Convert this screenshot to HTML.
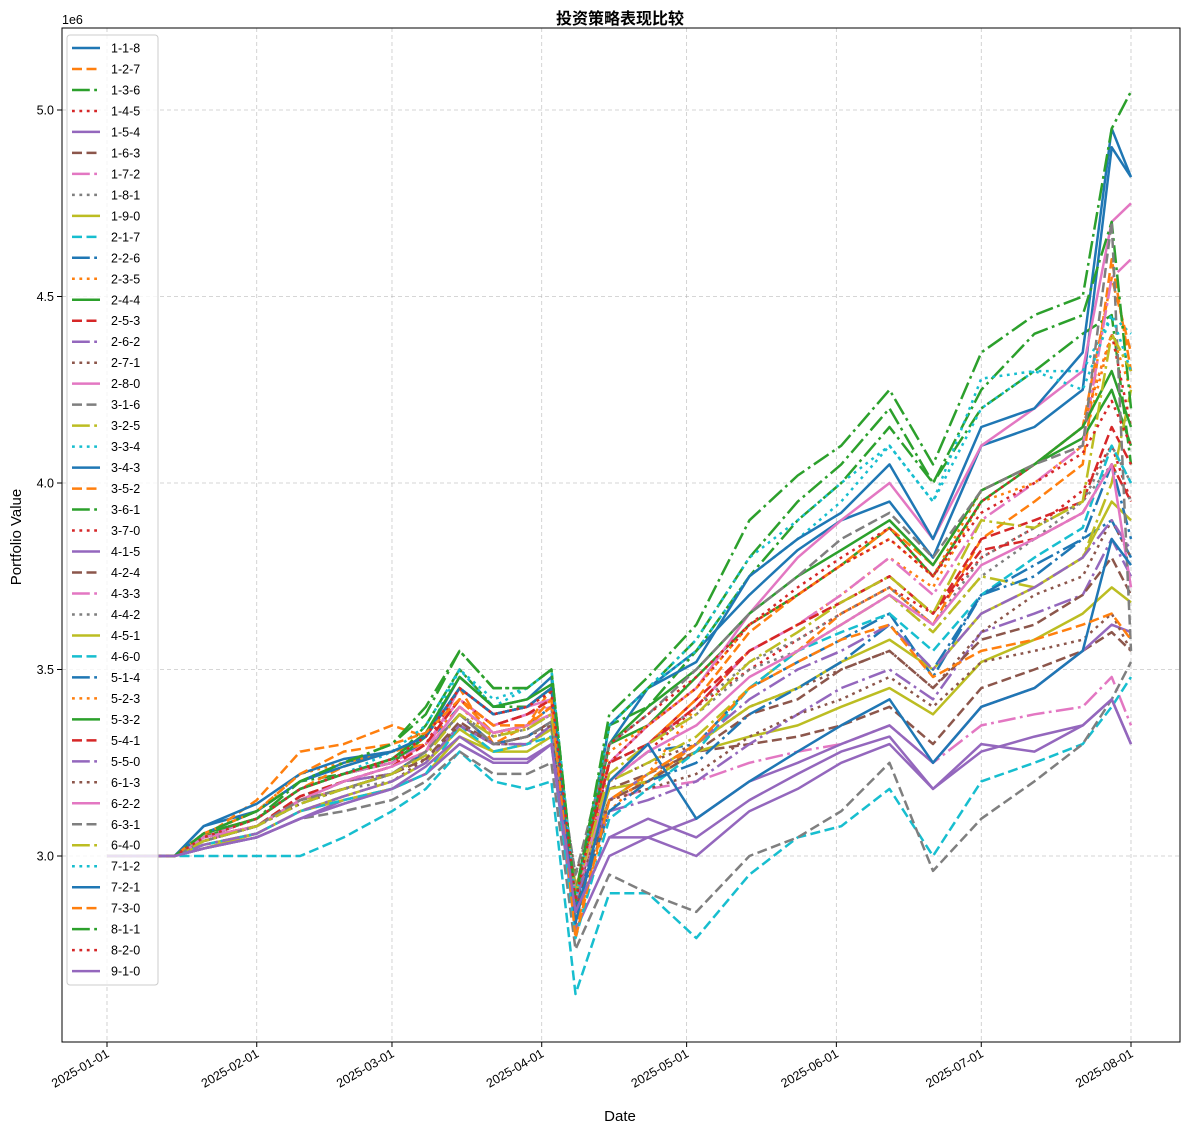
<!DOCTYPE html>
<html><head><meta charset="utf-8"><style>
html,body{margin:0;padding:0;background:#fff;}
svg{display:block;font-family:"Liberation Sans","Noto Sans CJK SC",sans-serif;}
</style></head><body>
<svg id="chart" width="1189" height="1133" viewBox="0 0 1189 1133" xmlns="http://www.w3.org/2000/svg">
<rect x="0" y="0" width="1189" height="1133" fill="#fff"/>
<text x="620" y="24" text-anchor="middle" font-size="16" font-weight="bold" fill="#000">投资策略表现比较</text>
<text x="62" y="24" font-size="12.5" fill="#000">1e6</text>
<text x="620" y="1121" text-anchor="middle" font-size="15" fill="#000">Date</text>
<text x="21" y="537" text-anchor="middle" font-size="15" fill="#000" transform="rotate(-90 21 537)">Portfolio Value</text>
<g id="grid"></g><g id="series"></g>
<rect x="62" y="28" width="1118" height="1014" fill="none" stroke="#000" stroke-width="1"/>
<g id="axes"></g><g id="legend"></g>
</svg>
<script>
const dayOffsets=[0,14,20,31,40,49,59,66,73,80,87,92,97,104,112,122,133,143,152,162,171,181,192,202,208,212];
const xTickLabels=["2025-01-01","2025-02-01","2025-03-01","2025-04-01","2025-05-01","2025-06-01","2025-07-01","2025-08-01"];
const xTickDays=[0,31,59,90,120,151,181,212];
const yTickValues=[3.0,3.5,4.0,4.5,5.0];
const seriesNames=["1-1-8","1-2-7","1-3-6","1-4-5","1-5-4","1-6-3","1-7-2","1-8-1","1-9-0","2-1-7","2-2-6","2-3-5","2-4-4","2-5-3","2-6-2","2-7-1","2-8-0","3-1-6","3-2-5","3-3-4","3-4-3","3-5-2","3-6-1","3-7-0","4-1-5","4-2-4","4-3-3","4-4-2","4-5-1","4-6-0","5-1-4","5-2-3","5-3-2","5-4-1","5-5-0","6-1-3","6-2-2","6-3-1","6-4-0","7-1-2","7-2-1","7-3-0","8-1-1","8-2-0","9-1-0"];
const s01=[3.00,3.00,3.08,3.12,3.20,3.25,3.28,3.32,3.45,3.38,3.40,3.45,2.85,3.30,3.45,3.55,3.70,3.82,3.90,3.95,3.80,4.10,4.15,4.25,4.90,4.82];
const s02=[3.00,3.00,3.05,3.15,3.28,3.30,3.35,3.32,3.45,3.30,3.35,3.45,2.80,3.15,3.20,3.30,3.45,3.55,3.65,3.72,3.62,3.85,3.95,4.05,4.60,4.30];
const s03=[3.00,3.00,3.06,3.10,3.20,3.22,3.25,3.35,3.50,3.40,3.40,3.45,2.90,3.35,3.40,3.55,3.75,3.90,4.00,4.15,4.00,4.20,4.30,4.40,4.45,4.05];
const s04=[3.00,3.00,3.04,3.08,3.15,3.18,3.22,3.28,3.40,3.33,3.35,3.38,2.88,3.20,3.28,3.40,3.50,3.58,3.65,3.72,3.65,3.80,3.88,3.98,4.10,3.95];
const s05=[3.00,3.00,3.02,3.05,3.10,3.15,3.18,3.22,3.30,3.25,3.25,3.30,2.85,3.05,3.10,3.05,3.15,3.22,3.28,3.32,3.18,3.30,3.28,3.35,3.42,3.30];
const s06=[3.00,3.00,3.05,3.08,3.16,3.20,3.22,3.28,3.38,3.30,3.32,3.36,2.90,3.18,3.22,3.28,3.30,3.32,3.35,3.40,3.30,3.45,3.50,3.55,3.60,3.55];
const s07=[3.00,3.00,3.06,3.10,3.18,3.22,3.25,3.30,3.42,3.35,3.38,3.40,2.92,3.15,3.18,3.20,3.25,3.28,3.30,3.35,3.25,3.35,3.38,3.40,3.48,3.35];
const s08=[3.00,3.00,3.04,3.08,3.14,3.18,3.20,3.25,3.35,3.30,3.30,3.35,2.95,3.25,3.30,3.38,3.50,3.55,3.62,3.70,3.60,3.75,3.85,3.95,4.05,3.95];
const s09=[3.00,3.00,3.02,3.06,3.12,3.15,3.18,3.22,3.32,3.28,3.28,3.32,2.90,3.18,3.20,3.28,3.32,3.35,3.40,3.45,3.38,3.52,3.58,3.65,3.72,3.68];
const s10=[3.00,3.00,3.00,3.00,3.00,3.05,3.12,3.18,3.28,3.20,3.18,3.20,2.63,2.90,2.90,2.78,2.95,3.05,3.08,3.18,3.00,3.20,3.25,3.30,3.40,3.48];
const s11=[3.00,3.00,3.06,3.10,3.18,3.22,3.26,3.30,3.40,3.33,3.35,3.40,2.85,3.20,3.28,3.30,3.45,3.52,3.58,3.65,3.48,3.70,3.75,3.85,3.90,3.80];
const s12=[3.00,3.00,3.06,3.12,3.22,3.25,3.28,3.30,3.40,3.32,3.35,3.40,2.80,3.12,3.22,3.40,3.55,3.62,3.70,3.80,3.72,3.95,4.00,4.10,4.40,4.25];
const s13=[3.00,3.00,3.05,3.10,3.18,3.22,3.25,3.32,3.45,3.38,3.40,3.45,2.88,3.30,3.35,3.48,3.62,3.70,3.78,3.88,3.75,3.95,4.05,4.12,4.25,4.10];
const s14=[3.00,3.00,3.04,3.08,3.16,3.20,3.24,3.30,3.42,3.35,3.38,3.42,2.90,3.25,3.30,3.42,3.55,3.62,3.68,3.75,3.65,3.85,3.90,3.95,4.15,4.05];
const s15=[3.00,3.00,3.05,3.08,3.15,3.20,3.22,3.28,3.38,3.30,3.32,3.36,2.90,3.12,3.15,3.20,3.30,3.38,3.45,3.50,3.42,3.60,3.65,3.70,3.85,3.75];
const s16=[3.00,3.00,3.03,3.06,3.12,3.16,3.20,3.26,3.35,3.30,3.30,3.34,2.95,3.20,3.25,3.30,3.40,3.45,3.50,3.55,3.45,3.60,3.70,3.75,3.90,3.80];
const s17=[3.00,3.00,3.04,3.08,3.15,3.18,3.22,3.28,3.45,3.38,3.40,3.42,2.88,3.25,3.35,3.45,3.65,3.80,3.90,4.00,3.85,4.10,4.20,4.30,4.70,4.75];
const s18=[3.00,3.00,3.02,3.05,3.10,3.12,3.15,3.20,3.28,3.22,3.22,3.25,2.75,2.95,2.90,2.85,3.00,3.05,3.12,3.25,2.96,3.10,3.20,3.30,3.42,3.52];
const s19=[3.00,3.00,3.05,3.08,3.15,3.18,3.22,3.28,3.40,3.33,3.35,3.38,2.88,3.20,3.25,3.32,3.45,3.55,3.62,3.70,3.60,3.75,3.72,3.80,4.00,4.25];
const s20=[3.00,3.00,3.06,3.10,3.18,3.22,3.26,3.32,3.50,3.40,3.45,3.50,2.88,3.35,3.45,3.55,3.75,3.85,3.95,4.10,3.95,4.20,4.30,4.30,4.45,4.40];
const s21=[3.00,3.00,3.08,3.14,3.22,3.26,3.28,3.32,3.48,3.40,3.42,3.48,2.85,3.35,3.45,3.52,3.75,3.85,3.92,4.05,3.85,4.15,4.20,4.35,4.95,4.82];
const s22=[3.00,3.00,3.06,3.10,3.18,3.24,3.28,3.30,3.42,3.33,3.35,3.40,2.82,3.20,3.30,3.42,3.60,3.70,3.78,3.88,3.78,3.98,4.05,4.15,4.55,4.35];
const s23=[3.00,3.00,3.06,3.12,3.20,3.25,3.30,3.38,3.55,3.45,3.45,3.50,2.88,3.35,3.45,3.58,3.80,3.95,4.05,4.20,4.00,4.25,4.40,4.45,4.70,4.20];
const s24=[3.00,3.00,3.05,3.10,3.18,3.22,3.25,3.30,3.45,3.38,3.40,3.45,2.85,3.25,3.35,3.45,3.62,3.72,3.80,3.88,3.75,3.95,4.05,4.15,4.40,4.15];
const s25=[3.00,3.00,3.02,3.05,3.10,3.14,3.18,3.22,3.30,3.25,3.25,3.30,2.80,3.00,3.05,3.10,3.20,3.25,3.30,3.35,3.25,3.40,3.45,3.55,3.62,3.60];
const s26=[3.00,3.00,3.04,3.08,3.15,3.18,3.22,3.26,3.36,3.30,3.32,3.36,2.85,3.15,3.20,3.28,3.38,3.42,3.50,3.55,3.45,3.58,3.62,3.70,3.80,3.70];
const s27=[3.00,3.00,3.05,3.10,3.18,3.22,3.25,3.30,3.42,3.35,3.38,3.42,2.88,3.20,3.30,3.40,3.55,3.62,3.70,3.80,3.70,3.90,4.00,4.10,4.55,4.60];
const s28=[3.00,3.00,3.04,3.08,3.15,3.20,3.24,3.28,3.38,3.32,3.34,3.38,2.90,3.25,3.30,3.40,3.52,3.58,3.65,3.72,3.62,3.80,3.88,3.95,4.10,4.00];
const s29=[3.00,3.00,3.03,3.06,3.12,3.16,3.20,3.25,3.34,3.28,3.30,3.34,2.92,3.15,3.22,3.30,3.40,3.45,3.52,3.58,3.50,3.65,3.72,3.80,3.95,3.90];
const s30=[3.00,3.00,3.03,3.06,3.12,3.15,3.18,3.22,3.35,3.28,3.30,3.32,2.78,3.10,3.18,3.28,3.45,3.55,3.60,3.65,3.55,3.70,3.80,3.88,4.10,4.00];
const s31=[3.00,3.00,3.04,3.08,3.14,3.18,3.22,3.28,3.38,3.30,3.32,3.36,2.85,3.12,3.20,3.25,3.38,3.45,3.52,3.62,3.50,3.70,3.78,3.85,4.05,3.85];
const s32=[3.00,3.00,3.05,3.10,3.18,3.22,3.26,3.32,3.45,3.38,3.40,3.44,2.88,3.28,3.35,3.45,3.62,3.70,3.78,3.85,3.75,3.98,4.05,4.15,4.40,4.30];
const s33=[3.00,3.00,3.06,3.10,3.18,3.22,3.26,3.33,3.48,3.40,3.42,3.46,2.90,3.30,3.40,3.50,3.65,3.75,3.82,3.90,3.78,3.98,4.05,4.15,4.30,4.15];
const s34=[3.00,3.00,3.05,3.08,3.15,3.20,3.24,3.30,3.42,3.35,3.38,3.42,2.90,3.25,3.30,3.40,3.55,3.62,3.68,3.75,3.65,3.82,3.85,3.92,4.05,3.95];
const s35=[3.00,3.00,3.03,3.06,3.12,3.16,3.20,3.25,3.35,3.30,3.30,3.35,2.88,3.15,3.22,3.30,3.42,3.50,3.55,3.62,3.50,3.65,3.72,3.80,3.90,3.82];
const s36=[3.00,3.00,3.04,3.08,3.14,3.18,3.22,3.26,3.35,3.30,3.32,3.35,2.90,3.15,3.18,3.22,3.32,3.38,3.42,3.48,3.40,3.52,3.55,3.58,3.65,3.55];
const s37=[3.00,3.00,3.05,3.08,3.15,3.20,3.24,3.28,3.40,3.33,3.35,3.38,2.90,3.20,3.28,3.35,3.48,3.55,3.62,3.70,3.62,3.78,3.85,3.92,4.05,3.72];
const s38=[3.00,3.00,3.04,3.08,3.15,3.18,3.22,3.28,3.38,3.30,3.32,3.36,2.95,3.30,3.38,3.50,3.65,3.75,3.85,3.92,3.80,3.98,4.05,4.10,4.70,3.55];
const s39=[3.00,3.00,3.04,3.08,3.14,3.18,3.22,3.27,3.38,3.32,3.34,3.38,2.90,3.22,3.30,3.38,3.52,3.60,3.68,3.75,3.65,3.90,3.88,3.95,4.40,4.30];
const s40=[3.00,3.00,3.05,3.10,3.18,3.22,3.28,3.35,3.50,3.42,3.45,3.50,2.88,3.35,3.45,3.58,3.80,3.90,4.00,4.10,3.95,4.28,4.30,4.25,4.45,4.30];
const s41=[3.00,3.00,3.06,3.12,3.20,3.24,3.28,3.32,3.45,3.38,3.40,3.45,2.82,3.20,3.30,3.10,3.20,3.28,3.35,3.42,3.25,3.40,3.45,3.55,3.85,3.78];
const s42=[3.00,3.00,3.06,3.12,3.22,3.28,3.30,3.33,3.42,3.35,3.35,3.42,2.78,3.15,3.22,3.30,3.45,3.52,3.58,3.62,3.48,3.55,3.58,3.62,3.65,3.58];
const s43=[3.00,3.00,3.06,3.12,3.20,3.25,3.30,3.40,3.55,3.45,3.45,3.50,2.88,3.38,3.48,3.62,3.90,4.02,4.10,4.25,4.05,4.35,4.45,4.50,4.95,5.05];
const s44=[3.00,3.00,3.05,3.10,3.18,3.22,3.26,3.32,3.45,3.38,3.40,3.44,2.88,3.30,3.38,3.48,3.62,3.70,3.78,3.85,3.75,3.92,4.00,4.08,4.22,4.10];
const s45=[3.00,3.00,3.02,3.05,3.10,3.14,3.18,3.24,3.32,3.26,3.26,3.30,2.85,3.05,3.05,3.00,3.12,3.18,3.25,3.30,3.18,3.28,3.32,3.35,3.42,3.30];
const seriesValues=[s01,s02,s03,s04,s05,s06,s07,s08,s09,s10,s11,s12,s13,s14,s15,s16,s17,s18,s19,s20,s21,s22,s23,s24,s25,s26,s27,s28,s29,s30,s31,s32,s33,s34,s35,s36,s37,s38,s39,s40,s41,s42,s43,s44,s45];

const NS="http://www.w3.org/2000/svg";
const colors=["#1f77b4","#ff7f0e","#2ca02c","#d62728","#9467bd","#8c564b","#e377c2","#7f7f7f","#bcbd22","#17becf"];
const dashes=["","10,4.5","17.8,4.4,2.8,4.4","2.8,4.6"];
const PL=62,PR=1180,PT=28,PB=1042;
function xScale(d){return 107+d*(1131-107)/212;}
function yScale(v){return 856-(v-3.0)*(856-110)/2.0;}
function mk(tag,attrs,parent){const e=document.createElementNS(NS,tag);for(const k in attrs)e.setAttribute(k,attrs[k]);parent.appendChild(e);return e;}
const grid=document.getElementById('grid'),axes=document.getElementById('axes'),ser=document.getElementById('series'),leg=document.getElementById('legend');
xTickDays.forEach((d,i)=>{
  const x=xScale(d);
  const g=mk('line',{x1:x,x2:x,y1:PT,y2:PB,stroke:'#b0b0b0','stroke-width':0.8,'stroke-dasharray':'4,3','stroke-opacity':0.7},grid);
  
  
  const t=mk('line',{x1:x,x2:x,y1:PB,y2:PB+5,stroke:'#000','stroke-width':1},axes);
  
  
  const lb=mk('text',{x:x+3,y:PB+14,'text-anchor':'end','font-size':12.5,fill:'#000',transform:`rotate(-30 ${x+3} ${PB+14})`},axes);
  lb.textContent=xTickLabels[i];
  
  
});
yTickValues.forEach(v=>{
  const y=yScale(v);
  const g=mk('line',{x1:PL,x2:PR,y1:y,y2:y,stroke:'#b0b0b0','stroke-width':0.8,'stroke-dasharray':'4,3','stroke-opacity':0.7},grid);
  
  
  const t=mk('line',{x1:PL-5,x2:PL,y1:y,y2:y,stroke:'#000','stroke-width':1},axes);
  
  
  const lb=mk('text',{x:PL-8,y:y+4.5,'text-anchor':'end','font-size':12.5,fill:'#000'},axes);
  lb.textContent=v.toFixed(1);
  
  
});
seriesValues.forEach((vals,i)=>{
  const pts=vals.map((v,j)=>xScale(dayOffsets[j]).toFixed(1)+','+yScale(v).toFixed(1)).join(' ');
  const p=mk('polyline',{points:pts,fill:'none',stroke:colors[i%10],'stroke-width':2.5,'stroke-linejoin':'round'},ser);
  if(dashes[i%4])p.setAttribute('stroke-dasharray',dashes[i%4]);
  
  
});
const box=mk('rect',{x:67,y:35,width:91,height:950,rx:3,fill:'#fff','fill-opacity':0.8,stroke:'#ccc','stroke-width':1},leg);


seriesNames.forEach((n,i)=>{
  const y=48+i*20.98;
  const l=mk('line',{x1:72,x2:100,y1:y,y2:y,stroke:colors[i%10],'stroke-width':2.5},leg);
  if(dashes[i%4])l.setAttribute('stroke-dasharray',dashes[i%4]);
  
  
  const t=mk('text',{x:111,y:y+4.5,'font-size':12.5,fill:'#000'},leg);
  t.textContent=n;
  
  
});
</script>
</body></html>
